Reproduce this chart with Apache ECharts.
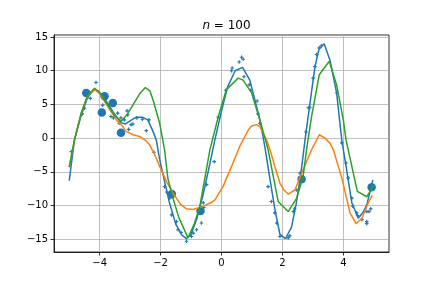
<!DOCTYPE html>
<html><head><meta charset="utf-8">
<script src="https://cdn.jsdelivr.net/npm/echarts@6/dist/echarts.min.js"></script>
<style>html,body{margin:0;padding:0;background:#fff}#c{width:432px;height:288px}</style>
</head><body><div id="c"></div>
<script>
const xTicks = [-4, -2, 0, 2, 4];
const yTicks = [-15, -10, -5, 0, 5, 10, 15];

// true function (blue line)
const trueX = [-5.0,-4.83,-4.6,-4.4,-4.2,-4.05,-3.8,-3.55,-3.3,-3.15,-2.95,-2.8,-2.6,-2.42,-2.25,-2.14,-2.03,-1.85,-1.72,-1.5,-1.3,-1.15,-1.0,-0.8,-0.6,-0.4,-0.22,0.0,0.2,0.45,0.69,0.93,1.1,1.26,1.42,1.6,1.75,1.92,2.1,2.3,2.45,2.6,2.75,2.9,3.07,3.2,3.37,3.56,3.78,3.95,4.1,4.28,4.49,4.65,4.77,4.97];
const trueY = [-6.3,-0.3,3.5,6.0,7.2,7.0,5.6,3.8,2.3,2.1,2.7,3.1,3.1,2.7,1.0,-0.3,-3.2,-6.8,-9.4,-12.8,-14.4,-14.9,-14.3,-11.8,-8.3,-4.2,-0.3,4.0,7.6,10.0,10.5,8.6,5.6,2.7,-1.2,-6.3,-10.5,-14.3,-14.9,-13.2,-9.8,-5.5,0.0,5.0,10.6,13.2,14.0,11.6,6.7,-0.3,-4.5,-9.6,-11.9,-11.0,-9.9,-6.2];

// noisy samples (small markers)
const sampleX = [-4.93,-4.57,-4.5,-4.31,-4.12,-3.9,-3.63,-3.55,-3.41,-3.36,-3.3,-3.19,-3.1,-3.08,-3.05,-2.97,-2.91,-2.78,-2.6,-2.47,-2.38,-2.22,-1.87,-1.8,-1.7,-1.64,-1.48,-1.43,-1.33,-1.15,-0.99,-0.93,-0.82,-0.66,-0.6,-0.58,-0.49,-0.24,-0.11,0.14,0.33,0.35,0.58,0.66,0.71,0.74,0.91,0.96,1.17,1.2,1.26,1.53,1.64,1.75,1.81,1.92,2.19,2.24,2.36,2.4,2.47,2.58,2.77,2.85,2.9,3.01,3.07,3.12,3.21,3.28,3.78,3.95,4.09,4.16,4.28,4.31,4.44,4.47,4.61,4.77,4.84,4.77,4.77,4.9];
const sampleY = [-2.0,3.6,4.45,5.9,8.25,4.9,3.2,3.0,3.7,2.2,3.0,2.7,4.05,3.45,1.3,2.0,2.1,3.0,2.8,1.1,2.7,-2.1,-7.2,-8.0,-8.9,-11.4,-12.4,-13.6,-14.0,-15.3,-14.6,-14.1,-13.6,-12.6,-9.6,-10.3,-6.9,-3.5,3.1,7.1,10.0,10.4,11.3,12.0,11.7,9.1,7.9,7.1,5.5,3.6,2.2,-7.2,-9.4,-11.1,-12.6,-14.6,-14.8,-14.5,-10.9,-10.5,-7.7,-5.2,0.9,4.5,4.5,8.9,10.6,12.4,13.4,13.7,6.7,-0.7,-3.7,-5.9,-8.9,-10.1,-11.1,-11.5,-12.1,-10.9,-10.9,-12.4,-12.7,-10.5];

// subset (large markers)
const subsetX = [-4.44,-3.84,-3.57,-3.93,-3.30,-1.63,-0.69,2.63,4.93];
const subsetY = [6.7,6.2,5.2,3.8,0.8,-8.3,-10.8,-6.1,-7.3];

// fit A (orange)
const fitAX = [-5.0,-4.83,-4.6,-4.4,-4.17,-4.0,-3.75,-3.45,-3.29,-3.13,-2.9,-2.69,-2.5,-2.36,-2.2,-2.03,-1.8,-1.59,-1.35,-1.15,-0.93,-0.6,-0.35,-0.22,0.05,0.33,0.6,0.88,0.99,1.15,1.26,1.48,1.59,1.75,1.92,2.05,2.19,2.41,2.68,2.96,3.21,3.4,3.56,3.67,3.95,4.22,4.42,4.61,4.82,4.95];
const fitAY = [-4.3,-0.3,3.8,6.2,7.2,6.6,4.8,2.7,2.0,1.0,0.5,0.24,-0.3,-1.0,-2.4,-4.2,-6.5,-8.2,-9.8,-10.5,-10.6,-10.1,-9.6,-9.2,-7.2,-4.2,-1.2,1.2,1.8,2.0,1.7,-0.25,-1.7,-4.2,-6.7,-7.7,-8.3,-7.7,-4.7,-1.7,0.5,0.0,-0.75,-1.7,-5.9,-11.1,-12.7,-11.9,-9.6,-8.5];

// fit B (green)
const fitBX = [-5.0,-4.83,-4.6,-4.4,-4.17,-4.0,-3.75,-3.5,-3.29,-3.1,-2.91,-2.7,-2.5,-2.35,-2.25,-2.03,-1.87,-1.76,-1.6,-1.4,-1.1,-0.9,-0.71,-0.38,-0.11,0.16,0.55,0.71,0.99,1.26,1.53,1.86,2.19,2.47,2.68,2.8,2.95,3.21,3.54,3.78,4.0,4.09,4.46,4.77,4.88,5.0];
const fitBY = [-4.3,-0.3,3.8,6.3,7.4,6.8,5.0,3.3,2.5,3.5,4.9,6.5,7.5,7.0,5.7,2.2,-1.7,-6.0,-8.8,-11.8,-14.8,-12.8,-10.1,-1.7,3.1,7.2,8.9,8.6,6.7,2.7,-1.7,-9.4,-10.9,-8.9,-5.7,-1.5,3.0,9.4,11.4,7.9,2.7,-0.3,-7.9,-8.7,-7.9,-7.0];

const zip = (a, b) => a.map((v, i) => [v, b[i]]);
const minus = v => String(v).replace('-', '\u2212');

const chart = echarts.init(document.getElementById('c'), null, {renderer: 'canvas'});
const font = 'DejaVu Sans';
const plus = 'path://M0,1.7H1.7V0H3.3V1.7H5V3.3H3.3V5H1.7V3.3H0Z';

chart.setOption({
  animation: false,
  backgroundColor: '#fff',
  title: {
    text: '{i|n}{r| = 100}',
    left: 221.5, top: 15, textAlign: 'center',
    textStyle: {
      fontWeight: 'normal',
      rich: {
        i: {fontFamily: font, fontSize: 12, fontStyle: 'italic', fontWeight: 'normal', color: '#000'},
        r: {fontFamily: font, fontSize: 12, fontWeight: 'normal', color: '#000'}
      }
    }
  },
  grid: {left: 54, right: 43, top: 35, bottom: 36, show: true, borderColor: '#000', borderWidth: 0.8, backgroundColor: 'transparent'},
  xAxis: {
    type: 'value', min: -5.5, max: 5.5,
    axisLine: {show: true, onZero: false, lineStyle: {color: '#000', width: 0.8}},
    axisTick: {show: true, length: 3.5, customValues: xTicks, lineStyle: {color: '#000', width: 0.8}},
    axisLabel: {customValues: xTicks, margin: 6, color: '#000', fontFamily: font, fontSize: 10, formatter: minus},
    splitLine: {show: true, lineStyle: {color: '#b0b0b0', width: 0.8}}
  },
  yAxis: {
    type: 'value', min: -16.9, max: 15.3,
    axisLine: {show: true, onZero: false, lineStyle: {color: '#000', width: 0.8}},
    axisTick: {show: true, length: 3.5, customValues: yTicks, lineStyle: {color: '#000', width: 0.8}},
    axisLabel: {customValues: yTicks, margin: 6, color: '#000', fontFamily: font, fontSize: 10, formatter: minus},
    splitLine: {show: true, lineStyle: {color: '#b0b0b0', width: 0.8}}
  },
  series: [
    {type: 'line', data: zip(trueX, trueY), showSymbol: false, symbol: 'none', lineStyle: {color: '#1f77b4', width: 1.5}, z: 2, silent: true},
    {type: 'scatter', data: zip(sampleX, sampleY), symbol: plus, symbolSize: 3.6, itemStyle: {color: '#1f77b4', opacity: 1}, z: 3, silent: true},
    {type: 'scatter', data: zip(subsetX, subsetY), symbol: 'circle', symbolSize: 8.5, itemStyle: {color: '#1f77b4', opacity: 1}, z: 4, silent: true},
    {type: 'line', data: zip(fitAX, fitAY), showSymbol: false, symbol: 'none', lineStyle: {color: '#ff7f0e', width: 1.5}, z: 5, silent: true},
    {type: 'line', data: zip(fitBX, fitBY), showSymbol: false, symbol: 'none', lineStyle: {color: '#2ca02c', width: 1.5}, z: 6, silent: true}
  ]
});
</script>
</body></html>
